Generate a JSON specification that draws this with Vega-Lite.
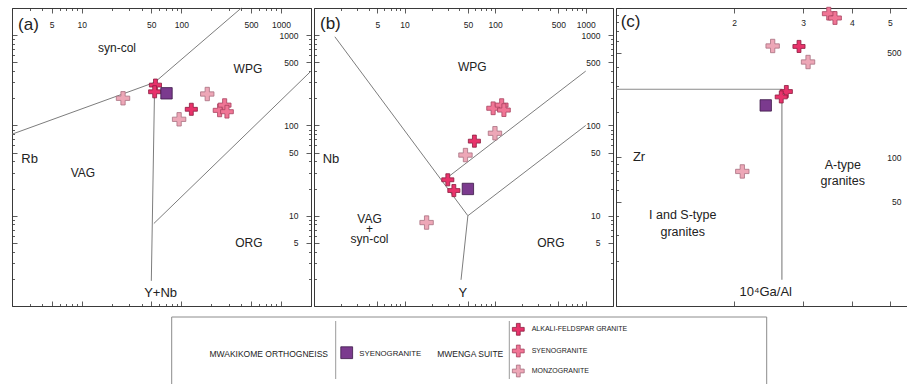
{
  "$schema": "https://vega.github.io/schema/vega-lite/v6.json",
  "padding": {"left": 9, "top": 3, "right": 0, "bottom": 0},
  "background": "white",
  "config": {
    "view": {"stroke": "#3a3a3a", "strokeWidth": 1},
    "text": {"font": "Liberation Sans", "color": "#222"},
    "axis": {"labelFont": "Liberation Sans", "labelFontSize": 8.5, "labelColor": "#222", "tickColor": "#333", "tickWidth": 0.8, "domain": false, "grid": false, "title": null, "labelFlush": false, "labelOverlap": false, "minExtent": 0, "maxExtent": 0}
  },
  "datasets": {
    "lines": [
      {"panel": "a", "seg": 1, "ord": 1, "x": 2, "y": 80},
      {"panel": "a", "seg": 1, "ord": 2, "x": 54, "y": 300},
      {"panel": "a", "seg": 1, "ord": 3, "x": 400, "y": 2000},
      {"panel": "a", "seg": 2, "ord": 1, "x": 50, "y": 1.9},
      {"panel": "a", "seg": 2, "ord": 2, "x": 54, "y": 300},
      {"panel": "a", "seg": 3, "ord": 1, "x": 53, "y": 8.2},
      {"panel": "a", "seg": 3, "ord": 2, "x": 2000, "y": 400},
      {"panel": "b", "seg": 1, "ord": 1, "x": 1.7, "y": 960},
      {"panel": "b", "seg": 1, "ord": 2, "x": 50, "y": 10},
      {"panel": "b", "seg": 2, "ord": 1, "x": 50, "y": 10},
      {"panel": "b", "seg": 2, "ord": 2, "x": 42, "y": 1.95},
      {"panel": "b", "seg": 3, "ord": 1, "x": 50, "y": 10},
      {"panel": "b", "seg": 3, "ord": 2, "x": 1000, "y": 100},
      {"panel": "b", "seg": 4, "ord": 1, "x": 29, "y": 26},
      {"panel": "b", "seg": 4, "ord": 2, "x": 1000, "y": 400},
      {"panel": "c", "seg": 1, "ord": 1, "x": 1, "y": 285},
      {"panel": "c", "seg": 1, "ord": 2, "x": 2.65, "y": 285},
      {"panel": "c", "seg": 1, "ord": 3, "x": 2.65, "y": 15}
    ],
    "pts": [
      {"panel": "a", "g": "MS-Monzogranite", "x": 26, "y": 200},
      {"panel": "a", "g": "MS-Monzogranite", "x": 95, "y": 117},
      {"panel": "a", "g": "MS-Monzogranite", "x": 182, "y": 223},
      {"panel": "a", "g": "MS-Syenogranite", "x": 242, "y": 147},
      {"panel": "a", "g": "MS-Syenogranite", "x": 272, "y": 168},
      {"panel": "a", "g": "MS-Syenogranite", "x": 287, "y": 142},
      {"panel": "a", "g": "MS-Alkali-feldspar granite", "x": 55, "y": 280},
      {"panel": "a", "g": "MS-Alkali-feldspar granite", "x": 54, "y": 236},
      {"panel": "a", "g": "MS-Alkali-feldspar granite", "x": 126, "y": 151},
      {"panel": "a", "g": "MO-Syenogranite", "x": 71, "y": 227},
      {"panel": "b", "g": "MS-Monzogranite", "x": 99.5, "y": 82},
      {"panel": "b", "g": "MS-Monzogranite", "x": 47, "y": 47},
      {"panel": "b", "g": "MS-Monzogranite", "x": 17.5, "y": 8.4},
      {"panel": "b", "g": "MS-Syenogranite", "x": 95, "y": 155},
      {"panel": "b", "g": "MS-Syenogranite", "x": 118, "y": 168},
      {"panel": "b", "g": "MS-Syenogranite", "x": 125, "y": 148},
      {"panel": "b", "g": "MS-Alkali-feldspar granite", "x": 59, "y": 67},
      {"panel": "b", "g": "MS-Alkali-feldspar granite", "x": 30, "y": 25},
      {"panel": "b", "g": "MS-Alkali-feldspar granite", "x": 35, "y": 19},
      {"panel": "b", "g": "MO-Syenogranite", "x": 50, "y": 19.8},
      {"panel": "c", "g": "MS-Monzogranite", "x": 2.51, "y": 556},
      {"panel": "c", "g": "MS-Monzogranite", "x": 3.09, "y": 434},
      {"panel": "c", "g": "MS-Monzogranite", "x": 2.1, "y": 80},
      {"panel": "c", "g": "MS-Syenogranite", "x": 3.49, "y": 916},
      {"panel": "c", "g": "MS-Syenogranite", "x": 3.62, "y": 857},
      {"panel": "c", "g": "MS-Alkali-feldspar granite", "x": 2.93, "y": 552},
      {"panel": "c", "g": "MS-Alkali-feldspar granite", "x": 2.72, "y": 275},
      {"panel": "c", "g": "MS-Alkali-feldspar granite", "x": 2.64, "y": 253},
      {"panel": "c", "g": "MO-Syenogranite", "x": 2.41, "y": 222}
    ],
    "txt": [
      {"panel": "a", "kind": "f", "t": "syn-col", "x": 22.6, "y": 714},
      {"panel": "a", "kind": "f", "t": "WPG", "x": 466, "y": 418},
      {"panel": "a", "kind": "f", "t": "VAG", "x": 10.3, "y": 29.5},
      {"panel": "a", "kind": "f", "t": "ORG", "x": 476, "y": 5.0},
      {"panel": "a", "kind": "n", "t": "Rb", "x": 3.0, "y": 43},
      {"panel": "a", "kind": "n", "t": "Y+Nb", "x": 62, "y": 1.38},
      {"panel": "a", "kind": "p", "t": "(a)", "x": 2.3, "y": 1294},
      {"panel": "b", "kind": "f", "t": "WPG", "x": 56, "y": 447},
      {"panel": "b", "kind": "f3", "t": ["VAG", "+", "syn-col"], "x": 4.1, "y": 9.1},
      {"panel": "b", "kind": "f", "t": "ORG", "x": 413, "y": 5.0},
      {"panel": "b", "kind": "n", "t": "Nb", "x": 1.54, "y": 43},
      {"panel": "b", "kind": "n", "t": "Y", "x": 44, "y": 1.38},
      {"panel": "b", "kind": "p", "t": "(b)", "x": 1.165, "y": 1327},
      {"panel": "c", "kind": "f", "t": ["A-type", "granites"], "x": 3.79, "y": 88.8},
      {"panel": "c", "kind": "f", "t": ["I and S-type", "granites"], "x": 1.48, "y": 40.6},
      {"panel": "c", "kind": "n", "t": "Zr", "x": 1.145, "y": 100},
      {"panel": "c", "kind": "n", "t": "10⁴Ga/Al", "x": 2.41, "y": 12.4},
      {"panel": "c", "kind": "p", "t": "(c)", "x": 1.028, "y": 805}
    ],
    "legt": [
      {"lx": 316, "ly": 37, "t": "MWAKIKOME ORTHOGNEISS", "k": "r"},
      {"lx": 347.3, "ly": 37, "t": "SYENOGRANITE", "k": "l"},
      {"lx": 491.3, "ly": 37, "t": "MWENGA SUITE", "k": "r"},
      {"lx": 519.7, "ly": 12.3, "t": "ALKALI-FELDSPAR GRANITE", "k": "s"},
      {"lx": 519.7, "ly": 34, "t": "SYENOGRANITE", "k": "s"},
      {"lx": 519.7, "ly": 54, "t": "MONZOGRANITE", "k": "s"}
    ],
    "legs": [
      {"lx": 334.7, "ly": 35.7, "g": "MO-Syenogranite"},
      {"lx": 506.3, "ly": 12.3, "g": "MS-Alkali-feldspar granite"},
      {"lx": 506.3, "ly": 34, "g": "MS-Syenogranite"},
      {"lx": 506.3, "ly": 54, "g": "MS-Monzogranite"}
    ],
    "legr": [
      {"lx": 323.7, "ly": 4, "ly2": 62},
      {"lx": 497.3, "ly": 4, "ly2": 62}
    ],
    "legbox": [
      {"x1": 159.7, "x2": 754.7, "y1": 0, "y2": 80}
    ]
  },
  "vconcat": [
    {
      "hconcat": [
        {
          "width": 299, "height": 298,
          "resolve": {"axis": {"x": "independent", "y": "independent"}},
          "layer": [
            {
              "data": {"name": "lines"}, "transform": [{"filter": "datum.panel=='a'"}],
              "mark": {"type": "line", "color": "#7d7d7d", "strokeWidth": 1},
              "encoding": {
                "x": {"field": "x", "type": "quantitative", "scale": {"type": "log", "domain": [2, 2000], "nice": false},
                  "axis": {"orient": "bottom", "values": [2,3,4,5,6,7,8,9,10,20,30,40,50,60,70,80,90,100,200,300,400,500,600,700,800,900,1000,2000], "labels": false,
                    "tickSize": {"condition": {"test": "indexof([5,10,50,100,500,1000],datum.value)>=0", "value": -5}, "value": -2.5}}},
                "y": {"field": "y", "type": "quantitative", "scale": {"type": "log", "domain": [1, 2000], "nice": false},
                  "axis": {"orient": "left", "values": [1,2,3,4,5,6,7,8,9,10,20,30,40,50,60,70,80,90,100,200,300,400,500,600,700,800,900,1000,2000], "labels": false,
                    "tickSize": {"condition": {"test": "indexof([5,10,50,100,500,1000],datum.value)>=0", "value": -5}, "value": -2.5}}},
                "detail": {"field": "seg"}, "order": {"field": "ord"}
              }
            },
            {
              "data": {"name": "txt"}, "transform": [{"filter": "datum.panel=='a' && datum.kind=='f'"}],
              "mark": {"type": "text", "fontSize": 12, "align": "center", "baseline": "middle", "lineHeight": 16},
              "encoding": {"x": {"field": "x", "type": "quantitative", "axis": null}, "y": {"field": "y", "type": "quantitative", "axis": null}, "text": {"field": "t"}}
            },
            {
              "data": {"name": "txt"}, "transform": [{"filter": "datum.panel=='a' && datum.kind=='n'"}],
              "mark": {"type": "text", "fontSize": 13, "align": "center", "baseline": "middle"},
              "encoding": {"x": {"field": "x", "type": "quantitative", "axis": null}, "y": {"field": "y", "type": "quantitative", "axis": null}, "text": {"field": "t"}}
            },
            {
              "data": {"name": "txt"}, "transform": [{"filter": "datum.panel=='a' && datum.kind=='p'"}],
              "mark": {"type": "text", "fontSize": 17, "align": "left", "baseline": "middle"},
              "encoding": {"x": {"field": "x", "type": "quantitative", "axis": null}, "y": {"field": "y", "type": "quantitative", "axis": null}, "text": {"field": "t"}}
            },
            {
              "data": {"name": "pts"}, "transform": [{"filter": "datum.panel=='a'"}],
              "mark": {"type": "point", "filled": true, "opacity": 1, "strokeWidth": 0.8},
              "encoding": {
                "x": {"field": "x", "type": "quantitative", "scale": {"type": "log", "domain": [2, 2000], "nice": false},
                  "axis": {"orient": "top", "values": [2,3,4,5,6,7,8,9,10,20,30,40,50,60,70,80,90,100,200,300,400,500,600,700,800,900,1000,2000],
                    "tickSize": {"condition": {"test": "indexof([5,10,50,100,500,1000],datum.value)>=0", "value": -5}, "value": -2.5},
                    "labelExpr": "indexof([5,10,50,100,500,1000],datum.value)>=0 ? format(datum.value,'d') : ''",
                    "labelPadding": -11, "labelBaseline": "middle"}},
                "y": {"field": "y", "type": "quantitative", "scale": {"type": "log", "domain": [1, 2000], "nice": false},
                  "axis": {"orient": "right", "values": [1,2,3,4,5,6,7,8,9,10,20,30,40,50,60,70,80,90,100,200,300,400,500,600,700,800,900,1000,2000],
                    "tickSize": {"condition": {"test": "indexof([5,10,50,100,500,1000],datum.value)>=0", "value": -5}, "value": -2.5},
                    "labelExpr": "indexof([5,10,50,100,500,1000],datum.value)>=0 ? format(datum.value,'d') : ''",
                    "labelPadding": -8, "labelAlign": "right", "labelBaseline": "middle"}},
                "shape": {"field": "g", "type": "nominal", "scale": {"domain": ["MO-Syenogranite", "MS-Alkali-feldspar granite", "MS-Syenogranite", "MS-Monzogranite"], "range": ["square", "M-1,-0.32H-0.32V-1H0.32V-0.32H1V0.32H0.32V1H-0.32V0.32H-1Z", "M-1,-0.32H-0.32V-1H0.32V-0.32H1V0.32H0.32V1H-0.32V0.32H-1Z", "M-1,-0.32H-0.32V-1H0.32V-0.32H1V0.32H0.32V1H-0.32V0.32H-1Z"]}, "legend": null},
                "fill": {"field": "g", "type": "nominal", "scale": {"domain": ["MO-Syenogranite", "MS-Alkali-feldspar granite", "MS-Syenogranite", "MS-Monzogranite"], "range": ["#7b3a8e", "#e8336b", "#f07595", "#eda7b7"]}, "legend": null},
                "stroke": {"field": "g", "type": "nominal", "scale": {"domain": ["MO-Syenogranite", "MS-Alkali-feldspar granite", "MS-Syenogranite", "MS-Monzogranite"], "range": ["#3b1846", "#8c1c3f", "#a8425f", "#a87080"]}, "legend": null},
                "size": {"field": "g", "type": "ordinal", "scale": {"domain": ["MO-Syenogranite", "MS-Alkali-feldspar granite", "MS-Syenogranite", "MS-Monzogranite"], "range": [130, 180, 180, 180]}, "legend": null}
              }
            }
          ]
        },
        {
          "width": 299, "height": 298,
          "resolve": {"axis": {"x": "independent", "y": "independent"}},
          "layer": [
            {
              "data": {"name": "lines"}, "transform": [{"filter": "datum.panel=='b'"}],
              "mark": {"type": "line", "color": "#7d7d7d", "strokeWidth": 1},
              "encoding": {
                "x": {"field": "x", "type": "quantitative", "scale": {"type": "log", "domain": [1, 2000], "nice": false},
                  "axis": {"orient": "bottom", "values": [1,2,3,4,5,6,7,8,9,10,20,30,40,50,60,70,80,90,100,200,300,400,500,600,700,800,900,1000,2000], "labels": false,
                    "tickSize": {"condition": {"test": "indexof([5,10,50,100,500,1000],datum.value)>=0", "value": -5}, "value": -2.5}}},
                "y": {"field": "y", "type": "quantitative", "scale": {"type": "log", "domain": [1, 2000], "nice": false},
                  "axis": {"orient": "left", "values": [1,2,3,4,5,6,7,8,9,10,20,30,40,50,60,70,80,90,100,200,300,400,500,600,700,800,900,1000,2000], "labels": false,
                    "tickSize": {"condition": {"test": "indexof([5,10,50,100,500,1000],datum.value)>=0", "value": -5}, "value": -2.5}}},
                "detail": {"field": "seg"}, "order": {"field": "ord"}
              }
            },
            {
              "data": {"name": "txt"}, "transform": [{"filter": "datum.panel=='b' && datum.kind=='f'"}],
              "mark": {"type": "text", "fontSize": 12, "align": "center", "baseline": "middle", "lineHeight": 16},
              "encoding": {"x": {"field": "x", "type": "quantitative", "axis": null}, "y": {"field": "y", "type": "quantitative", "axis": null}, "text": {"field": "t"}}
            },
            {
              "data": {"name": "txt"}, "transform": [{"filter": "datum.panel=='b' && datum.kind=='f3'"}],
              "mark": {"type": "text", "fontSize": 12, "align": "center", "baseline": "middle", "lineHeight": 10},
              "encoding": {"x": {"field": "x", "type": "quantitative", "axis": null}, "y": {"field": "y", "type": "quantitative", "axis": null}, "text": {"field": "t"}}
            },
            {
              "data": {"name": "txt"}, "transform": [{"filter": "datum.panel=='b' && datum.kind=='n'"}],
              "mark": {"type": "text", "fontSize": 13, "align": "center", "baseline": "middle"},
              "encoding": {"x": {"field": "x", "type": "quantitative", "axis": null}, "y": {"field": "y", "type": "quantitative", "axis": null}, "text": {"field": "t"}}
            },
            {
              "data": {"name": "txt"}, "transform": [{"filter": "datum.panel=='b' && datum.kind=='p'"}],
              "mark": {"type": "text", "fontSize": 17, "align": "left", "baseline": "middle"},
              "encoding": {"x": {"field": "x", "type": "quantitative", "axis": null}, "y": {"field": "y", "type": "quantitative", "axis": null}, "text": {"field": "t"}}
            },
            {
              "data": {"name": "pts"}, "transform": [{"filter": "datum.panel=='b'"}],
              "mark": {"type": "point", "filled": true, "opacity": 1, "strokeWidth": 0.8},
              "encoding": {
                "x": {"field": "x", "type": "quantitative", "scale": {"type": "log", "domain": [1, 2000], "nice": false},
                  "axis": {"orient": "top", "values": [1,2,3,4,5,6,7,8,9,10,20,30,40,50,60,70,80,90,100,200,300,400,500,600,700,800,900,1000,2000],
                    "tickSize": {"condition": {"test": "indexof([5,10,50,100,500,1000],datum.value)>=0", "value": -5}, "value": -2.5},
                    "labelExpr": "indexof([5,10,50,100,500,1000],datum.value)>=0 ? format(datum.value,'d') : ''",
                    "labelPadding": -11, "labelBaseline": "middle"}},
                "y": {"field": "y", "type": "quantitative", "scale": {"type": "log", "domain": [1, 2000], "nice": false},
                  "axis": {"orient": "right", "values": [1,2,3,4,5,6,7,8,9,10,20,30,40,50,60,70,80,90,100,200,300,400,500,600,700,800,900,1000,2000],
                    "tickSize": {"condition": {"test": "indexof([5,10,50,100,500,1000],datum.value)>=0", "value": -5}, "value": -2.5},
                    "labelExpr": "indexof([5,10,50,100,500,1000],datum.value)>=0 ? format(datum.value,'d') : ''",
                    "labelPadding": -8, "labelAlign": "right", "labelBaseline": "middle"}},
                "shape": {"field": "g", "type": "nominal", "scale": {"domain": ["MO-Syenogranite", "MS-Alkali-feldspar granite", "MS-Syenogranite", "MS-Monzogranite"], "range": ["square", "M-1,-0.32H-0.32V-1H0.32V-0.32H1V0.32H0.32V1H-0.32V0.32H-1Z", "M-1,-0.32H-0.32V-1H0.32V-0.32H1V0.32H0.32V1H-0.32V0.32H-1Z", "M-1,-0.32H-0.32V-1H0.32V-0.32H1V0.32H0.32V1H-0.32V0.32H-1Z"]}, "legend": null},
                "fill": {"field": "g", "type": "nominal", "scale": {"domain": ["MO-Syenogranite", "MS-Alkali-feldspar granite", "MS-Syenogranite", "MS-Monzogranite"], "range": ["#7b3a8e", "#e8336b", "#f07595", "#eda7b7"]}, "legend": null},
                "stroke": {"field": "g", "type": "nominal", "scale": {"domain": ["MO-Syenogranite", "MS-Alkali-feldspar granite", "MS-Syenogranite", "MS-Monzogranite"], "range": ["#3b1846", "#8c1c3f", "#a8425f", "#a87080"]}, "legend": null},
                "size": {"field": "g", "type": "ordinal", "scale": {"domain": ["MO-Syenogranite", "MS-Alkali-feldspar granite", "MS-Syenogranite", "MS-Monzogranite"], "range": [130, 180, 180, 180]}, "legend": null}
              }
            }
          ]
        },
        {
          "width": 305, "height": 298,
          "resolve": {"axis": {"x": "independent", "y": "independent"}},
          "layer": [
            {
              "data": {"name": "lines"}, "transform": [{"filter": "datum.panel=='c'"}],
              "mark": {"type": "line", "color": "#8a8a8a", "strokeWidth": 1.2},
              "encoding": {
                "x": {"field": "x", "type": "quantitative", "scale": {"type": "log", "domain": [1, 6], "nice": false},
                  "axis": {"orient": "bottom", "values": [1,2,3,4,5,6], "labels": false, "tickSize": -5}},
                "y": {"field": "y", "type": "quantitative", "scale": {"type": "log", "domain": [10, 1000], "nice": false},
                  "axis": {"orient": "left", "values": [10,20,30,40,50,60,70,80,90,100,200,300,400,500,600,700,800,900,1000], "labels": false,
                    "tickSize": {"condition": {"test": "indexof([10,50,100,500,1000],datum.value)>=0", "value": -5}, "value": -2.5}}},
                "detail": {"field": "seg"}, "order": {"field": "ord"}
              }
            },
            {
              "data": {"name": "txt"}, "transform": [{"filter": "datum.panel=='c' && datum.kind=='f'"}],
              "mark": {"type": "text", "fontSize": 12.5, "align": "center", "baseline": "middle", "lineHeight": 16.5},
              "encoding": {"x": {"field": "x", "type": "quantitative", "axis": null}, "y": {"field": "y", "type": "quantitative", "axis": null}, "text": {"field": "t"}}
            },
            {
              "data": {"name": "txt"}, "transform": [{"filter": "datum.panel=='c' && datum.kind=='n'"}],
              "mark": {"type": "text", "fontSize": 13, "align": "center", "baseline": "middle"},
              "encoding": {"x": {"field": "x", "type": "quantitative", "axis": null}, "y": {"field": "y", "type": "quantitative", "axis": null}, "text": {"field": "t"}}
            },
            {
              "data": {"name": "txt"}, "transform": [{"filter": "datum.panel=='c' && datum.kind=='p'"}],
              "mark": {"type": "text", "fontSize": 17, "align": "left", "baseline": "middle"},
              "encoding": {"x": {"field": "x", "type": "quantitative", "axis": null}, "y": {"field": "y", "type": "quantitative", "axis": null}, "text": {"field": "t"}}
            },
            {
              "data": {"name": "pts"}, "transform": [{"filter": "datum.panel=='c'"}],
              "mark": {"type": "point", "filled": true, "opacity": 1, "strokeWidth": 0.8},
              "encoding": {
                "x": {"field": "x", "type": "quantitative", "scale": {"type": "log", "domain": [1, 6], "nice": false},
                  "axis": {"orient": "top", "values": [1,2,3,4,5,6], "tickSize": -5,
                    "labelExpr": "datum.value>=2 && datum.value<=5 ? format(datum.value,'d') : ''",
                    "labelPadding": -9, "labelBaseline": "middle"}},
                "y": {"field": "y", "type": "quantitative", "scale": {"type": "log", "domain": [10, 1000], "nice": false},
                  "axis": {"orient": "right", "values": [10,20,30,40,50,60,70,80,90,100,200,300,400,500,600,700,800,900,1000],
                    "tickSize": {"condition": {"test": "indexof([10,50,100,500,1000],datum.value)>=0", "value": -5}, "value": -2.5},
                    "labelExpr": "indexof([50,100,500],datum.value)>=0 ? format(datum.value,'d') : ''",
                    "labelPadding": -15, "labelAlign": "right", "labelBaseline": "middle"}},
                "shape": {"field": "g", "type": "nominal", "scale": {"domain": ["MO-Syenogranite", "MS-Alkali-feldspar granite", "MS-Syenogranite", "MS-Monzogranite"], "range": ["square", "M-1,-0.32H-0.32V-1H0.32V-0.32H1V0.32H0.32V1H-0.32V0.32H-1Z", "M-1,-0.32H-0.32V-1H0.32V-0.32H1V0.32H0.32V1H-0.32V0.32H-1Z", "M-1,-0.32H-0.32V-1H0.32V-0.32H1V0.32H0.32V1H-0.32V0.32H-1Z"]}, "legend": null},
                "fill": {"field": "g", "type": "nominal", "scale": {"domain": ["MO-Syenogranite", "MS-Alkali-feldspar granite", "MS-Syenogranite", "MS-Monzogranite"], "range": ["#7b3a8e", "#e8336b", "#f07595", "#eda7b7"]}, "legend": null},
                "stroke": {"field": "g", "type": "nominal", "scale": {"domain": ["MO-Syenogranite", "MS-Alkali-feldspar granite", "MS-Syenogranite", "MS-Monzogranite"], "range": ["#3b1846", "#8c1c3f", "#a8425f", "#a87080"]}, "legend": null},
                "size": {"field": "g", "type": "ordinal", "scale": {"domain": ["MO-Syenogranite", "MS-Alkali-feldspar granite", "MS-Syenogranite", "MS-Monzogranite"], "range": [130, 180, 180, 180]}, "legend": null}
              }
            }
          ]
        }
      ],
      "spacing": -1
    },
    {
      "width": 759, "height": 68,
      "view": {"stroke": null},
      "layer": [
        {
          "data": {"name": "legbox"},
          "mark": {"type": "rect", "filled": false, "stroke": "#8c8c8c", "strokeWidth": 1},
          "encoding": {
            "x": {"field": "x1", "type": "quantitative", "scale": {"domain": [0, 759], "nice": false, "zero": false}, "axis": null},
            "x2": {"field": "x2"},
            "y": {"field": "y1", "type": "quantitative", "scale": {"domain": [0, 68], "nice": false, "zero": false, "reverse": true}, "axis": null},
            "y2": {"field": "y2"}
          }
        },
        {
          "data": {"name": "legr"},
          "mark": {"type": "rule", "color": "#9a9a9a", "strokeWidth": 1},
          "encoding": {
            "x": {"field": "lx", "type": "quantitative", "axis": null},
            "y": {"field": "ly", "type": "quantitative", "axis": null},
            "y2": {"field": "ly2"}
          }
        },
        {
          "data": {"name": "legt"}, "transform": [{"filter": "datum.k=='r'"}],
          "mark": {"type": "text", "fontSize": 8.5, "align": "right", "baseline": "middle"},
          "encoding": {"x": {"field": "lx", "type": "quantitative", "axis": null}, "y": {"field": "ly", "type": "quantitative", "axis": null}, "text": {"field": "t"}}
        },
        {
          "data": {"name": "legt"}, "transform": [{"filter": "datum.k=='l'"}],
          "mark": {"type": "text", "fontSize": 7.8, "align": "left", "baseline": "middle"},
          "encoding": {"x": {"field": "lx", "type": "quantitative", "axis": null}, "y": {"field": "ly", "type": "quantitative", "axis": null}, "text": {"field": "t"}}
        },
        {
          "data": {"name": "legt"}, "transform": [{"filter": "datum.k=='s'"}],
          "mark": {"type": "text", "fontSize": 7, "align": "left", "baseline": "middle"},
          "encoding": {"x": {"field": "lx", "type": "quantitative", "axis": null}, "y": {"field": "ly", "type": "quantitative", "axis": null}, "text": {"field": "t"}}
        },
        {
          "data": {"name": "legs"},
          "mark": {"type": "point", "filled": true, "opacity": 1, "strokeWidth": 0.8, "size": 140},
          "encoding": {
            "x": {"field": "lx", "type": "quantitative", "axis": null},
            "y": {"field": "ly", "type": "quantitative", "axis": null},
            "shape": {"field": "g", "type": "nominal", "scale": {"domain": ["MO-Syenogranite", "MS-Alkali-feldspar granite", "MS-Syenogranite", "MS-Monzogranite"], "range": ["square", "M-1,-0.32H-0.32V-1H0.32V-0.32H1V0.32H0.32V1H-0.32V0.32H-1Z", "M-1,-0.32H-0.32V-1H0.32V-0.32H1V0.32H0.32V1H-0.32V0.32H-1Z", "M-1,-0.32H-0.32V-1H0.32V-0.32H1V0.32H0.32V1H-0.32V0.32H-1Z"]}, "legend": null},
            "fill": {"field": "g", "type": "nominal", "scale": {"domain": ["MO-Syenogranite", "MS-Alkali-feldspar granite", "MS-Syenogranite", "MS-Monzogranite"], "range": ["#7b3a8e", "#e8336b", "#f07595", "#eda7b7"]}, "legend": null},
            "stroke": {"field": "g", "type": "nominal", "scale": {"domain": ["MO-Syenogranite", "MS-Alkali-feldspar granite", "MS-Syenogranite", "MS-Monzogranite"], "range": ["#3b1846", "#8c1c3f", "#a8425f", "#a87080"]}, "legend": null}
          }
        }
      ]
    }
  ],
  "spacing": 5
}
